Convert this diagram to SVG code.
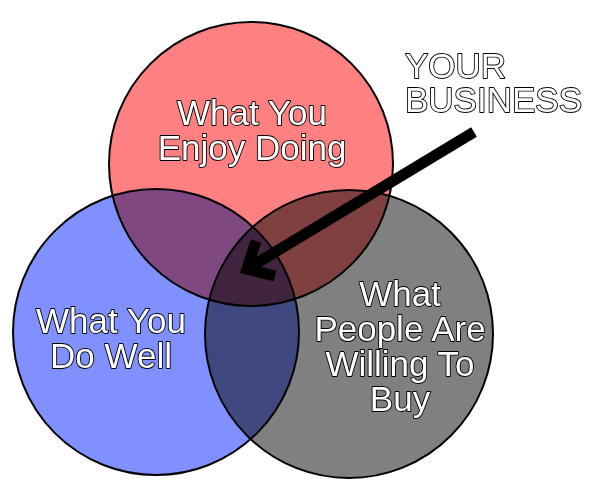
<svg xmlns="http://www.w3.org/2000/svg" width="600" height="482" viewBox="0 0 600 482">
  <style>
    .c { stroke: #000; stroke-width: 2; mix-blend-mode: multiply; }
    .red { fill: #ff8080; }
    .blue { fill: #8090ff; }
    .gray { fill: #808080; }
    .lbl { font-family: "Liberation Sans", Arial, sans-serif; font-size: 35px; fill: #fff; stroke: #000; stroke-width: 1.8; paint-order: stroke; stroke-linejoin: round; text-anchor: middle; }
    .title { text-anchor: start; }
    .arrow { fill: none; stroke: #000; stroke-width: 11; }
  </style>
  <rect x="0" y="0" width="600" height="482" fill="#fff"/>
  <g id="node-enjoy">
    <circle class="c red" cx="251" cy="164" r="142"/>
    <text class="lbl" x="252" y="125">What You<tspan x="252" dy="35">Enjoy Doing</tspan></text>
  </g>
  <g id="node-dowell">
    <circle class="c blue" cx="156" cy="332" r="143"/>
    <text class="lbl" x="111" y="333">What You<tspan x="111" dy="35">Do Well</tspan></text>
  </g>
  <g id="node-buy">
    <circle class="c gray" cx="349" cy="334" r="144"/>
    <text class="lbl" x="400" y="306">What<tspan x="400" dy="35">People Are</tspan><tspan x="400" dy="35">Willing To</tspan><tspan x="400" dy="35">Buy</tspan></text>
  </g>
  <g id="node-business">
    <text class="lbl title" x="405" y="78">YOUR<tspan x="405" dy="34">BUSINESS</tspan></text>
  </g>
  <g id="connectors">
    <path class="arrow" d="M474,132 L252,266"/>
    <path class="arrow" d="M256,241 L247,269 L275,276" stroke-linejoin="miter"/>
  </g>
</svg>
